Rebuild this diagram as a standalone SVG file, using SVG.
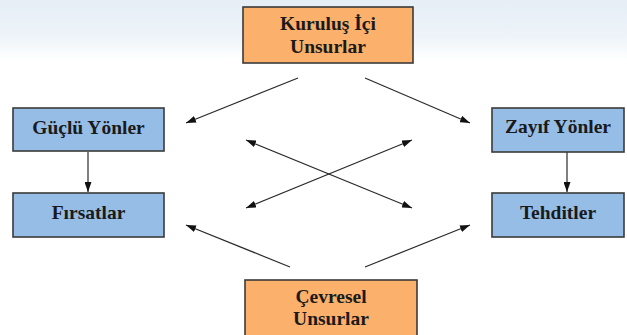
<svg xmlns="http://www.w3.org/2000/svg" width="627" height="335" viewBox="0 0 627 335">
<style>
.box{stroke:#3a3a3a;stroke-width:1.6}
.org{fill:#fbb06c}
.blu{fill:#95bde6}
.t{font-family:'Liberation Serif','DejaVu Serif',serif;font-weight:bold;font-size:19.5px;fill:#1a1a1a;text-anchor:middle}
.c{stroke:#2a2a2a;stroke-width:1.2;fill:none;marker-end:url(#ah)}
.d{marker-start:url(#ah)}
</style>
<defs>
<linearGradient id="bg" x1="0" y1="0" x2="0" y2="1">
<stop offset="0" stop-color="#e6eef6"/>
<stop offset="0.6" stop-color="#edf3f8"/>
<stop offset="1" stop-color="#ffffff"/>
</linearGradient>
<marker id="ah" viewBox="0 0 10 7" refX="10" refY="3.5" markerWidth="10" markerHeight="7" markerUnits="userSpaceOnUse" orient="auto-start-reverse">
<path d="M0,0 L10,3.5 L0,7 z" fill="#111"/>
</marker>
</defs>
<rect width="627" height="335" fill="#fff"/>
<rect width="627" height="60" fill="url(#bg)"/>
<g id="connectors">
<line class="c" x1="298" y1="78" x2="186" y2="123"/>
<line class="c" x1="365" y1="78" x2="470" y2="123"/>
<line class="c d" x1="246" y1="140" x2="412" y2="208"/>
<line class="c d" x1="412" y1="140" x2="246" y2="208"/>
<line class="c" x1="290" y1="267" x2="186" y2="225"/>
<line class="c" x1="365" y1="267" x2="470" y2="225"/>
<line class="c" x1="88" y1="152" x2="88" y2="192"/>
<line class="c" x1="567" y1="152" x2="567" y2="192"/>
</g>
<g id="kurulus">
<rect class="box org" x="243" y="7" width="170" height="56"/>
<text class="t" x="328" y="30">Kuruluş İçi</text>
<text class="t" x="328" y="53">Unsurlar</text>
</g>
<g id="guclu">
<rect class="box blu" x="13" y="108" width="151" height="43"/>
<text class="t" x="88.5" y="134">Güçlü Yönler</text>
</g>
<g id="firsatlar">
<rect class="box blu" x="13" y="193" width="151" height="44"/>
<text class="t" x="88.5" y="219">Fırsatlar</text>
</g>
<g id="zayif">
<rect class="box blu" x="492" y="108" width="132" height="44"/>
<text class="t" x="558" y="133">Zayıf Yönler</text>
</g>
<g id="tehditler">
<rect class="box blu" x="492" y="193" width="132" height="44"/>
<text class="t" x="558" y="219">Tehditler</text>
</g>
<g id="cevresel">
<rect class="box org" x="245" y="280" width="172" height="60"/>
<text class="t" x="331" y="303">Çevresel</text>
<text class="t" x="331" y="325">Unsurlar</text>
</g>
</svg>
